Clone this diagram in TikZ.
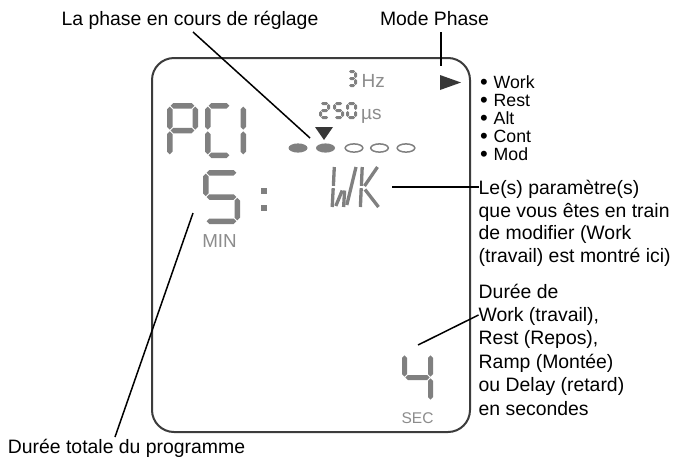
\documentclass[tikz,border=0pt]{standalone}
\usepackage{fontspec}
\setmainfont{Liberation Sans}
\definecolor{lcdgray}{RGB}{128,128,128}
\definecolor{txtgray}{RGB}{140,140,140}
\definecolor{boxgray}{RGB}{60,60,60}
\definecolor{markgray}{RGB}{55,55,55}
\def\gp{0.9}
\def\segt{5}
\newcommand\hseg[3]{\fill[lcd] ({#2},{#1}) -- ({#2+\segt/2},{#1-\segt/2}) -- ({#3-\segt/2},{#1-\segt/2}) -- ({#3},{#1}) -- ({#3-\segt/2},{#1+\segt/2}) -- ({#2+\segt/2},{#1+\segt/2}) -- cycle;}
\newcommand\vseg[3]{\fill[lcd] ({#1},{#2}) -- ({#1+\segt/2},{#2+\segt/2}) -- ({#1+\segt/2},{#3-\segt/2}) -- ({#1},{#3}) -- ({#1-\segt/2},{#3-\segt/2}) -- ({#1-\segt/2},{#2+\segt/2}) -- cycle;}
\newcommand\lcddigit[6]{%
  \def\segt{#1}%
  \pgfmathsetmacro\dxl{#2+#1/2}%
  \pgfmathsetmacro\dxr{#4-#1/2}%
  \pgfmathsetmacro\dyt{#3+#1/2}%
  \pgfmathsetmacro\dyb{#5-#1/2}%
  \pgfmathsetmacro\dym{(#3+#5)/2}%
  #6}
\newcommand\sA{\hseg{\dyt}{\dxl+\gp}{\dxr-\gp}}
\newcommand\sB{\vseg{\dxr}{\dyt+\gp}{\dym-\gp}}
\newcommand\sC{\vseg{\dxr}{\dym+\gp}{\dyb-\gp}}
\newcommand\sD{\hseg{\dyb}{\dxl+\gp}{\dxr-\gp}}
\newcommand\sE{\vseg{\dxl}{\dym+\gp}{\dyb-\gp}}
\newcommand\sF{\vseg{\dxl}{\dyt+\gp}{\dym-\gp}}
\newcommand\sG{\hseg{\dym}{\dxl+\gp}{\dxr-\gp}}
\newcommand\bul{\makebox[13.5pt][l]{\raisebox{-1.5pt}[8pt][0pt]{\fontsize{22}{18}\selectfont •}}}
\begin{document}
\begin{tikzpicture}[x=1pt,y=-1pt,
  lcd/.style={fill=lcdgray},
  lcdstroke/.style={draw=lcdgray,line width=3.3pt},
  conn/.style={draw=black,line width=1.5pt},
  boxline/.style={draw=boxgray,line width=2pt,rounded corners=22pt},
  lbl/.style={font=\fontsize{19.4}{22.6}\selectfont,inner sep=0pt,text=black},
  para/.style={lbl,align=left},
  listtxt/.style={font=\fontsize{17.7}{18}\selectfont,inner sep=0pt,align=left,text=black},
  gtxt/.style={inner sep=0pt,text=txtgray},
  dotfull/.style={fill=lcdgray},
  dotopen/.style={draw=lcdgray,line width=1.5pt},
  phasemark/.style={fill=markgray}]
\useasboundingbox[fill=white] (0,0) rectangle (676,461);

% LCD frame
\draw[boxline] (152,58) rectangle (470,432);

% big PC1
\lcddigit{5.5}{167}{103}{198}{158}{\sA\sB\sE\sF\sG}
\lcddigit{5.5}{205}{103}{233}{158}{\sA\sD\sE\sF}
\lcddigit{5.5}{218}{103}{246}{158}{\sB\sC}
% 5 minutes
\lcddigit{5.5}{203}{170}{240}{224}{\sA\sF\sG\sC\sD}
% colon
\fill[lcd] (261,188) rectangle (267,194);
\fill[lcd] (261,205) rectangle (267,211);
% 4 seconds
\lcddigit{5}{402}{352}{433}{403}{\sF\sG\sB\sC}
% small digits
\def\gp{0.5}
\lcddigit{3}{347}{70}{357}{87}{\sA\sB\sC\sD\sG}
\lcddigit{3}{319}{102}{330}{119}{\sA\sB\sG\sE\sD}
\lcddigit{3}{333}{102}{344}{119}{\sA\sF\sG\sC\sD}
\lcddigit{3}{346}{102}{357}{119}{\sA\sB\sC\sD\sE\sF}

% WK
\draw[lcdstroke] (334.3,167) -- (333.4,185.8);
\draw[lcdstroke] (333.2,188.2) -- (332.2,207);
\draw[lcdstroke] (335.8,206) -- (342.2,190.5);
\draw[lcdstroke] (344.6,190.5) -- (343.6,207);
\draw[lcdstroke] (346.8,205) -- (356,167);
\draw[lcdstroke] (362.2,167) -- (361.4,185.8);
\draw[lcdstroke] (361.2,188.2) -- (360.4,207);
\draw[lcdstroke] (364.5,186) -- (377.5,167);
\draw[lcdstroke] (365,189.5) -- (378.5,207);
\coordinate (wk) at (392,187);

% gray unit texts
\node[gtxt,font=\fontsize{19}{19}\selectfont,anchor=base west] (hz) at (361.5,87) {Hz};
\node[gtxt,font=\fontsize{19}{19}\selectfont,anchor=base west] (us) at (361,119) {µs};
\node[gtxt,font=\fontsize{18.8}{19}\selectfont,anchor=base] (min) at (219.5,247) {MIN};
\node[gtxt,font=\fontsize{15.5}{16}\selectfont,anchor=base] (sec) at (417.5,423) {SEC};

% phase markers
\fill[phasemark] (440,75) -- (461,82.5) -- (440,90) -- cycle;
\fill[phasemark] (315,127) -- (333,127) -- (324,140) -- cycle;
\fill[dotfull] (298,148) ellipse [x radius=9.5,y radius=4.6];
\fill[dotfull] (325.5,148) ellipse [x radius=9.5,y radius=4.6];
\draw[dotopen] (354,148) ellipse [x radius=8.8,y radius=4.1];
\draw[dotopen] (379.5,148) ellipse [x radius=8.8,y radius=4.1];
\draw[dotopen] (406,148) ellipse [x radius=8.8,y radius=4.1];

% labels (base anchor of a multi-line node = baseline of its last line)
\node[lbl,anchor=base] (lp) at (190,25) {La phase en cours de réglage};
\node[lbl,anchor=base] (mp) at (434.5,25) {Mode Phase};
\node[lbl,anchor=base] (dt) at (126.5,453) {Durée totale du programme};
\node[listtxt,anchor=base west] (list) at (480,160) {\bul Work\\\bul Rest\\\bul Alt\\\bul Cont\\\bul Mod};
\node[para,anchor=base west] (p1) at (478.5,262.5) {Le(s) paramètre(s)\\que vous êtes en train\\de modifier (Work\\(travail) est montré ici)};
\node[para,font=\fontsize{19.4}{23.4}\selectfont,anchor=base west] (p2) at (478.5,415) {Durée de\\Work (travail),\\Rest (Repos),\\Ramp (Montée)\\ou Delay (retard)\\en secondes};

% connectors
\coordinate (lpA) at (193,32);
\coordinate (lpB) at (310,138);
\coordinate (mpA) at (441,32);
\coordinate (mpB) at (441,66);
\coordinate (dtA) at (115,437);
\coordinate (dtB) at (193,213);
\coordinate (d4) at (418,345);
\draw[conn] (lpA) -- (lpB);
\draw[conn] (mpA) -- (mpB);
\draw[conn] (wk) -- (wk -| p1.west);
\draw[conn] (d4) -- (p2.west |- 0,315);
\draw[conn] (dtA) -- (dtB);
\end{tikzpicture}
\end{document}
